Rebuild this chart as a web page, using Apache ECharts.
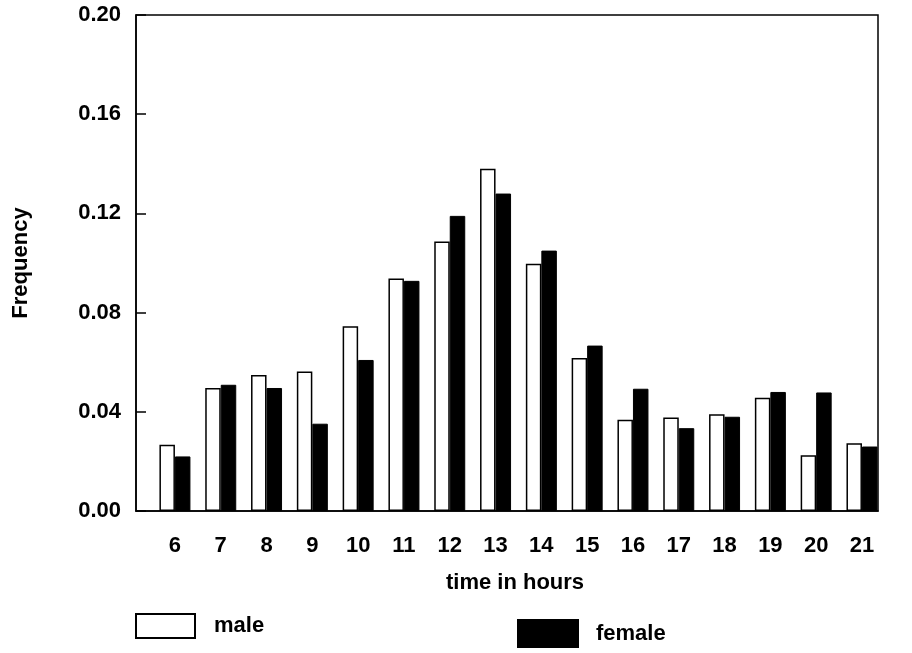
<!DOCTYPE html>
<html>
<head>
<meta charset="utf-8">
<script src="https://cdn.jsdelivr.net/npm/echarts@6/dist/echarts.min.js"></script>
<style>html,body{margin:0;padding:0;background:#fff;}#c{width:912px;height:653px;}</style>
</head>
<body>
<div id="c"></div>
<script>
var hours = [6, 7, 8, 9, 10, 11, 12, 13, 14, 15, 16, 17, 18, 19, 20, 21];
var male = [0.0267, 0.0496, 0.0548, 0.0562, 0.0745, 0.0937, 0.1087, 0.1380, 0.0997, 0.0617, 0.0368, 0.0377, 0.0390, 0.0457, 0.0225, 0.0273];
var female = [0.0220, 0.0509, 0.0496, 0.0352, 0.0609, 0.0928, 0.1190, 0.1280, 0.1050, 0.0667, 0.0493, 0.0334, 0.0380, 0.0480, 0.0478, 0.0260];

var FONT = 'Liberation Sans';
function pairs(vals) { return hours.map(function (h, i) { return [h, vals[i]]; }); }

var chart = echarts.init(document.getElementById('c'), null, { renderer: 'canvas' });
chart.setOption({
  animation: false,
  backgroundColor: '#fff',
  grid: { left: 136, right: 34, top: 15, bottom: 142, show: true, borderColor: '#000', borderWidth: 1.5,
    backgroundColor: 'transparent', containLabel: false, outerBoundsMode: 'none' },
  legend: [
    { data: ['male'], left: 135, top: 613, padding: 0, itemWidth: 59, itemHeight: 24, itemGap: 0, icon: 'rect',
      textStyle: { fontFamily: FONT, fontWeight: 'bold', fontSize: 22, color: '#000', padding: [8, 0, 0, 14] } },
    { data: ['female'], left: 517, top: 619, padding: 0, itemWidth: 60, itemHeight: 27, itemGap: 0, icon: 'rect',
      textStyle: { fontFamily: FONT, fontWeight: 'bold', fontSize: 22, color: '#000', padding: [10, 0, 0, 13] } }
  ],
  xAxis: {
    type: 'value', min: 5.15, max: 21.35,
    name: 'time in hours', nameLocation: 'middle', nameGap: 61,
    nameTextStyle: { fontFamily: FONT, fontWeight: 'bold', fontSize: 22, color: '#000', padding: [0, 0, 0, 16] },
    axisLine: { show: true, lineStyle: { color: '#000', width: 1.5 } },
    axisTick: { show: false },
    splitLine: { show: false },
    axisLabel: { customValues: hours, margin: 24, fontFamily: FONT, fontWeight: 'bold', fontSize: 22, color: '#000' }
  },
  yAxis: {
    type: 'value', min: 0, max: 0.2, interval: 0.04,
    name: 'Frequency', nameLocation: 'middle', nameGap: 104, nameRotate: 90,
    nameTextStyle: { fontFamily: FONT, fontWeight: 'bold', fontSize: 22, color: '#000' },
    axisLine: { show: true, lineStyle: { color: '#000', width: 1.5 } },
    axisTick: { show: true, inside: true, length: 10, lineStyle: { color: '#000', width: 1.5 } },
    splitLine: { show: false },
    axisLabel: { margin: 15, fontFamily: FONT, fontWeight: 'bold', fontSize: 22, color: '#000',
      formatter: function (v) { return v.toFixed(2); } }
  },
  series: [
    { name: 'male', type: 'bar', data: pairs(male), barWidth: 15.5, barGap: '0%',
      itemStyle: { color: '#fff', borderColor: '#000', borderWidth: 1.5 } },
    { name: 'female', type: 'bar', data: pairs(female), barWidth: 15.5, barGap: '0%',
      itemStyle: { color: '#000', borderColor: '#000', borderWidth: 1 } }
  ]
});
</script>
</body>
</html>
